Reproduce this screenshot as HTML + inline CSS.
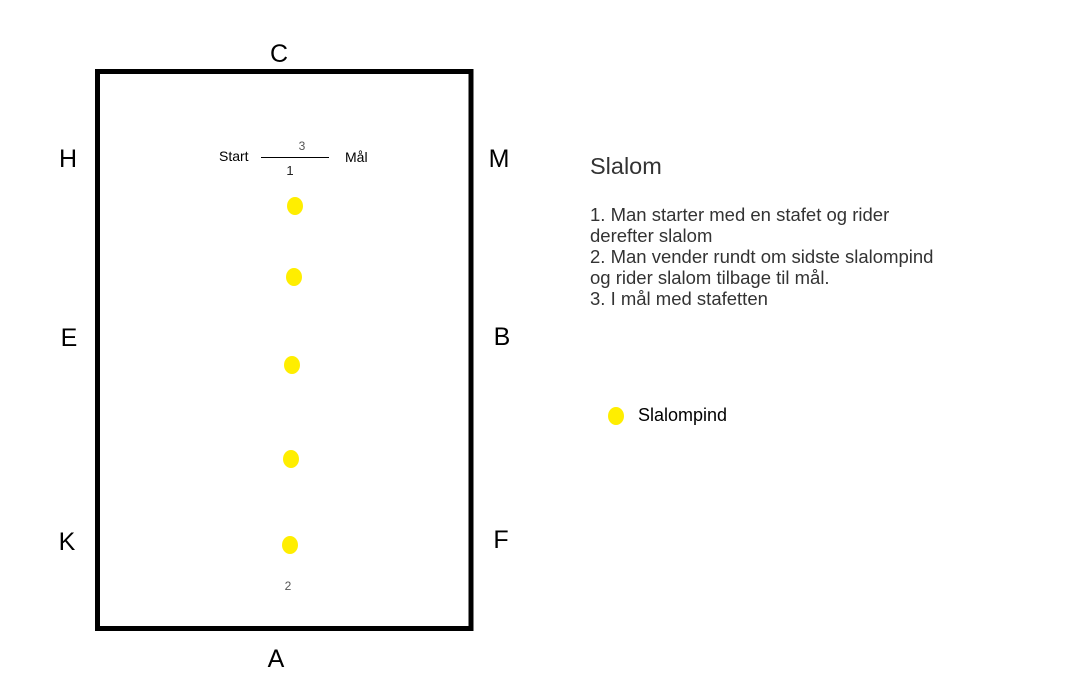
<!DOCTYPE html>
<html><head><meta charset="utf-8"><style>
html,body{margin:0;padding:0;background:#fff;}
svg{display:block;font-family:"Liberation Sans",sans-serif;}
</style></head><body>
<svg width="1075" height="700" viewBox="0 0 1075 700" xmlns="http://www.w3.org/2000/svg">
<rect x="97.5" y="71.5" width="373.5" height="557" fill="none" stroke="#000" stroke-width="5"/>
<g font-size="25" fill="#000" text-anchor="middle">
<text x="279" y="62">C</text>
<text x="68" y="167">H</text>
<text x="499" y="167">M</text>
<text x="69" y="346">E</text>
<text x="502" y="345">B</text>
<text x="67" y="550">K</text>
<text x="501" y="548">F</text>
<text x="276" y="667">A</text>
</g>
<text x="219" y="161" font-size="14">Start</text>
<line x1="261" y1="157.5" x2="329" y2="157.5" stroke="#000" stroke-width="1"/>
<text x="302" y="150" font-size="12" fill="#555" text-anchor="middle">3</text>
<text x="290" y="175" font-size="13" fill="#222" text-anchor="middle">1</text>
<text x="345" y="162" font-size="14">Mål</text>
<text x="288" y="590" font-size="12" fill="#555" text-anchor="middle">2</text>
<g fill="#ffee00">
<ellipse cx="295" cy="206" rx="8" ry="9"/>
<ellipse cx="294" cy="277" rx="8" ry="9"/>
<ellipse cx="292" cy="365" rx="8" ry="9"/>
<ellipse cx="291" cy="459" rx="8" ry="9"/>
<ellipse cx="290" cy="545" rx="8" ry="9"/>
<ellipse cx="616" cy="416" rx="8" ry="9"/>
</g>
<text x="638" y="421" font-size="18">Slalompind</text>
<text x="590" y="174" font-size="23.5" fill="#333">Slalom</text>
<g font-size="18.5" fill="#333">
<text x="590" y="221">1. Man starter med en stafet og rider</text>
<text x="590" y="242">derefter slalom</text>
<text x="590" y="263">2. Man vender rundt om sidste slalompind</text>
<text x="590" y="284">og rider slalom tilbage til mål.</text>
<text x="590" y="305">3. I mål med stafetten</text>
</g>
</svg>
</body></html>
